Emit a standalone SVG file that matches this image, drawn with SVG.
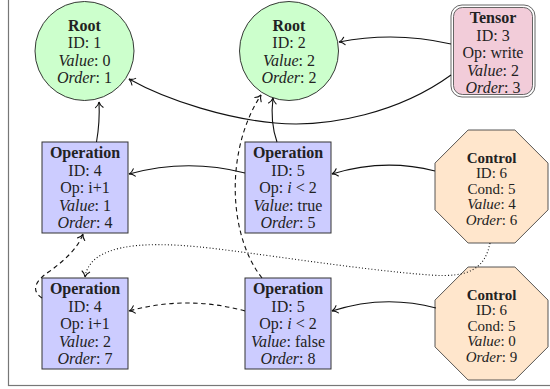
<svg xmlns="http://www.w3.org/2000/svg" width="550" height="389" viewBox="0 0 550 389">
<style>
.t{font-family:"Liberation Serif","DejaVu Serif",serif;font-size:16px;text-anchor:middle;fill:#222}
.c{font-size:15px}
.b{font-weight:bold}
.i{font-style:italic}
.e{fill:none;stroke:#111;stroke-width:1.1}
.dash{stroke-dasharray:4.5 3.5}
.dot{stroke-dasharray:1 2.2}
.op{fill:#ccccff;stroke:#333;stroke-width:1}
.root{fill:#ccffcc;stroke:#222;stroke-width:0.9}
.ctl{fill:#ffe6cc;stroke:#444;stroke-width:0.9}
</style>
<defs>
<marker id="ah" markerUnits="userSpaceOnUse" markerWidth="12" markerHeight="12" viewBox="-7 -6 8 12" refX="0" refY="0" orient="auto">
<path d="M-5.5,-3.8 C-3.8,-1.3 -1.2,-0.3 0,0 C-1.2,0.3 -3.8,1.3 -5.5,3.8" fill="none" stroke="#111" stroke-width="1.1" stroke-linecap="round" stroke-dasharray="none"/>
</marker>
</defs>
<rect x="8.5" y="-5" width="560" height="390.5" fill="#fff" stroke="#777" stroke-width="1.2"/>

<g id="root1">
<circle cx="84.5" cy="51" r="49.5" class="root"/>
<text class="t b" x="84.5" y="30.5">Root</text>
<text class="t" x="84.5" y="48">ID: 1</text>
<text class="t" x="84.5" y="65.5"><tspan class="i">Value</tspan>: 0</text>
<text class="t" x="84.5" y="83"><tspan class="i">Order</tspan>: 1</text>
</g>
<g id="root2">
<circle cx="289" cy="51" r="49.5" class="root"/>
<text class="t b" x="289" y="30.5">Root</text>
<text class="t" x="289" y="48">ID: 2</text>
<text class="t" x="289" y="65.5"><tspan class="i">Value</tspan>: 2</text>
<text class="t" x="289" y="83"><tspan class="i">Order</tspan>: 2</text>
</g>
<g id="tensor">
<rect x="451" y="5" width="84" height="92" rx="11" fill="#fff" stroke="#555" stroke-width="0.9"/>
<rect x="453.5" y="7.5" width="79" height="87" rx="9" fill="#f2ccd9" stroke="#555" stroke-width="0.9"/>
<text class="t b" x="493" y="23">Tensor</text>
<text class="t" x="493" y="40.5">ID: 3</text>
<text class="t" x="493" y="58">Op: write</text>
<text class="t" x="493" y="75.5"><tspan class="i">Value</tspan>: 2</text>
<text class="t" x="493" y="93"><tspan class="i">Order</tspan>: 3</text>
</g>
<g id="op4a">
<rect x="42" y="142" width="86" height="91" class="op"/>
<text class="t b" x="85" y="158">Operation</text>
<text class="t" x="85" y="175.5">ID: 4</text>
<text class="t" x="85" y="193">Op: i+1</text>
<text class="t" x="85" y="210.5"><tspan class="i">Value</tspan>: 1</text>
<text class="t" x="85" y="228"><tspan class="i">Order</tspan>: 4</text>
</g>
<g id="op5a">
<rect x="245" y="142" width="86" height="91" class="op"/>
<text class="t b" x="288" y="158">Operation</text>
<text class="t" x="288" y="175.5">ID: 5</text>
<text class="t" x="288" y="193">Op: <tspan class="i">i</tspan> &lt; 2</text>
<text class="t" x="288" y="210.5"><tspan class="i">Value</tspan>: true</text>
<text class="t" x="288" y="228"><tspan class="i">Order</tspan>: 5</text>
</g>
<g id="ctl6a">
<polygon points="468.1,130 514.9,130 548,163.1 548,209.9 514.9,243 468.1,243 435,209.9 435,163.1" class="ctl"/>
<text class="t c b" x="491.5" y="162.5">Control</text>
<text class="t c" x="491.5" y="178">ID: 6</text>
<text class="t c" x="491.5" y="193.5">Cond: 5</text>
<text class="t c" x="491.5" y="209"><tspan class="i">Value</tspan>: 4</text>
<text class="t c" x="491.5" y="224.5"><tspan class="i">Order</tspan>: 6</text>
</g>
<g id="op4b">
<rect x="42" y="278" width="86" height="91" class="op"/>
<text class="t b" x="85" y="294">Operation</text>
<text class="t" x="85" y="311.5">ID: 4</text>
<text class="t" x="85" y="329">Op: i+1</text>
<text class="t" x="85" y="346.5"><tspan class="i">Value</tspan>: 2</text>
<text class="t" x="85" y="364"><tspan class="i">Order</tspan>: 7</text>
</g>
<g id="op5b">
<rect x="245" y="278" width="86" height="91" class="op"/>
<text class="t b" x="288" y="294">Operation</text>
<text class="t" x="288" y="311.5">ID: 5</text>
<text class="t" x="288" y="329">Op: <tspan class="i">i</tspan> &lt; 2</text>
<text class="t" x="288" y="346.5"><tspan class="i">Value</tspan>: false</text>
<text class="t" x="288" y="364"><tspan class="i">Order</tspan>: 8</text>
</g>
<g id="ctl6b">
<polygon points="468.1,267 514.9,267 548,300.1 548,346.9 514.9,380 468.1,380 435,346.9 435,300.1" class="ctl"/>
<text class="t c b" x="491.5" y="299.5">Control</text>
<text class="t c" x="491.5" y="315">ID: 6</text>
<text class="t c" x="491.5" y="330.5">Cond: 5</text>
<text class="t c" x="491.5" y="346"><tspan class="i">Value</tspan>: 0</text>
<text class="t c" x="491.5" y="361.5"><tspan class="i">Order</tspan>: 9</text>
</g>

<g id="connectors">
<path class="e" d="M451,44 Q395,31 339,42" marker-end="url(#ah)"/>
<path class="e" d="M451,75 C400,112 330,128 275,123 C230,119 170,102 129,79" marker-end="url(#ah)"/>
<path class="e" d="M96.5,142 Q100,122 99,102" marker-end="url(#ah)"/>
<path class="e" d="M277,142 Q270,122 273,98" marker-end="url(#ah)"/>
<path class="e" d="M245,173 Q187,158 129,174" marker-end="url(#ah)"/>
<path class="e" d="M435,171 Q384,158 332,174" marker-end="url(#ah)"/>
<path class="e" d="M436,308 Q384,294 332,311" marker-end="url(#ah)"/>
<path class="e dash" d="M245,311 Q187,295 129,311" marker-end="url(#ah)"/>
<path class="e dash" d="M262,278 C228,235 225,150 261,95" marker-end="url(#ah)"/>
<path class="e dash" d="M42,298 C30,290 36,280 50,271 C65,260 78,248 83,234" marker-end="url(#ah)"/>
<path class="e dot" d="M490,243 C485,268 470,278 430,275 C360,270 250,252 200,247 C140,241 90,245 85,277" marker-end="url(#ah)"/>
</g>
</svg>
